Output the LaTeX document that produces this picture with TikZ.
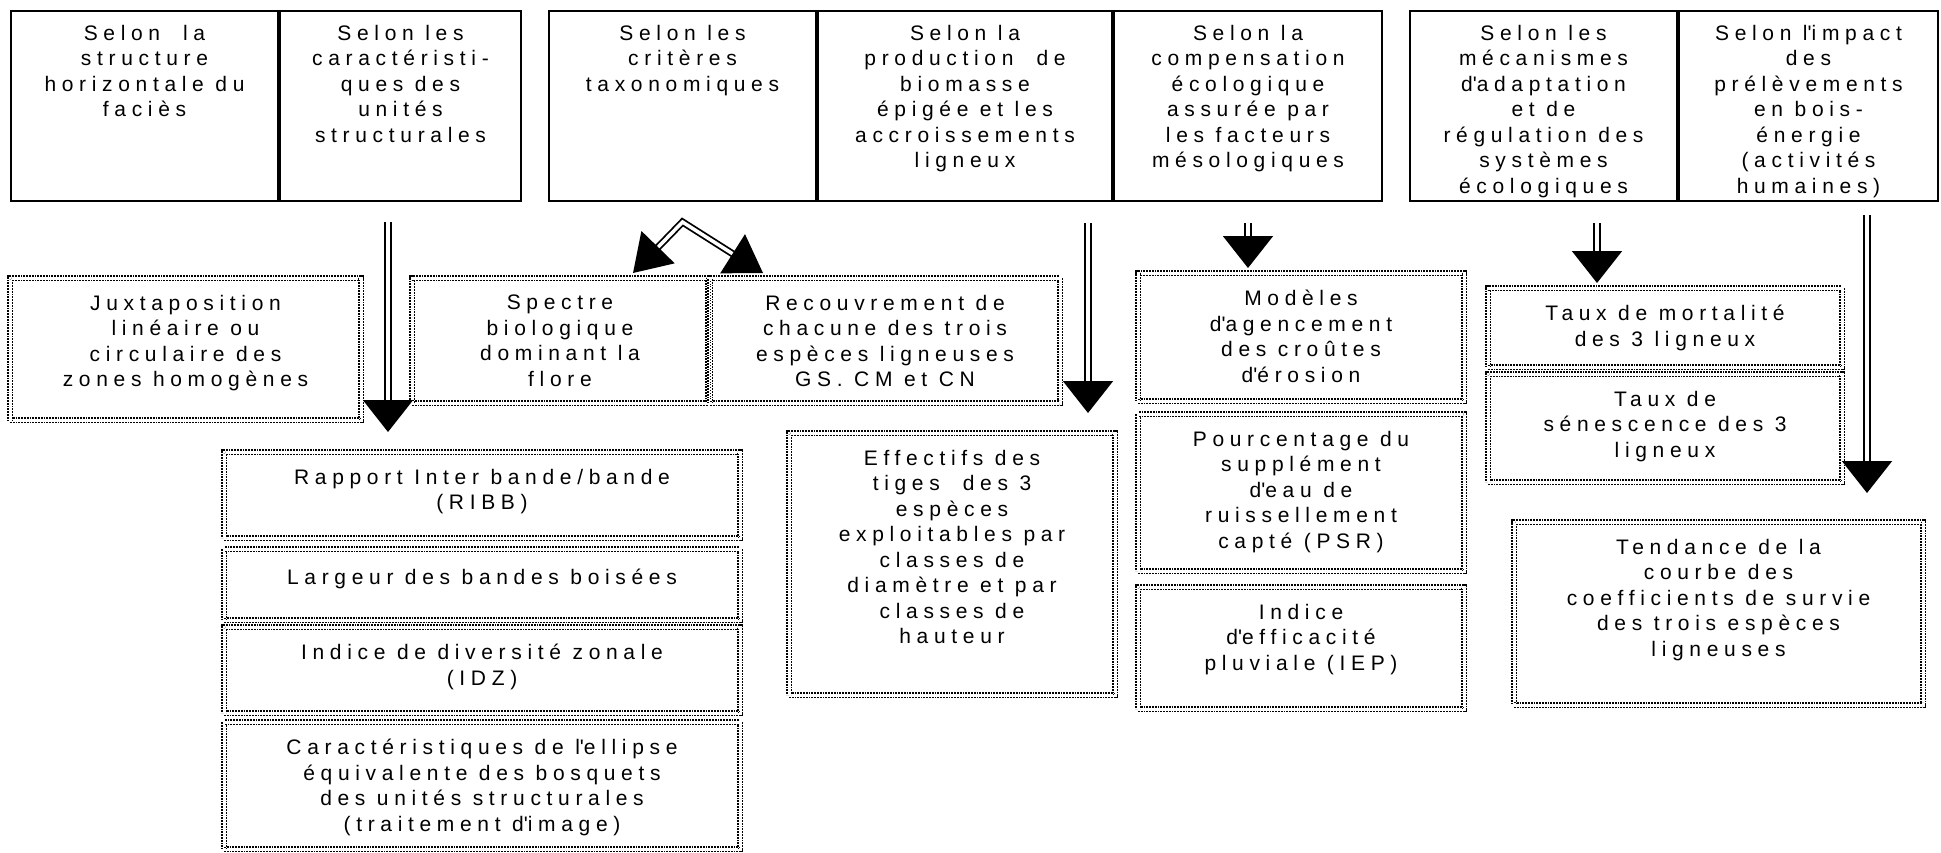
\documentclass[tikz,border=0pt]{standalone}
\usepackage{fontspec}
\setmainfont{Liberation Sans}
\newfontfamily\diafont{Liberation Sans}[LetterSpace=27]
\usetikzlibrary{arrows.meta,calc}
\newcommand\ap{\textquotesingle}

\tikzset{
  x=1pt, y=-1pt,
  topbox/.style={draw, line width=2pt, inner sep=0pt, outer sep=0pt},
  dotbox/.style={draw, line width=1.4pt, double, double distance=3pt,
    dash pattern=on 1.8pt off 1pt, inner sep=0pt, outer sep=0pt},
  boxtext/.style={anchor=north, align=center, inner sep=0pt,
    font=\diafont\fontsize{21}{25.5}\selectfont, execute at begin node=\strut},
  toptext/.style={boxtext, yshift=-14pt},
  dottext/.style={boxtext, yshift=-17pt},
  dline/.style={draw, line width=1.8pt, double, double distance=3.5pt,
    -{Triangle[width=50pt,length=32pt]}},
  fork/.style={draw, line width=1.8pt, double, double distance=3.5pt,
    {Triangle[width=46pt,length=36pt]}-{Triangle[width=46pt,length=36pt]}},
}

\begin{document}
\begin{tikzpicture}
\fill[white] (0,0) rectangle (1941,852);
\useasboundingbox (0,0) rectangle (1941,852);

% criteria row
\node[topbox, minimum width=267pt, minimum height=190pt,
  label={[toptext]north:{Selon\ \ la\\structure\\horizontale du\\faciès}}] (b1) at (144.5,106) {};
\node[topbox, minimum width=241pt, minimum height=190pt,
  label={[toptext]north:{Selon les\\caractéristi-\\ques des\\unités\\structurales}}] (b2) at (400.5,106) {};
\node[topbox, minimum width=267pt, minimum height=190pt,
  label={[toptext]north:{Selon les\\critères\\taxonomiques}}] (b3) at (682.5,106) {};
\node[topbox, minimum width=294pt, minimum height=190pt,
  label={[toptext]north:{Selon la\\production\ \ de\\biomasse\\épigée et les\\accroissements\\ligneux}}] (b4) at (965,106) {};
\node[topbox, minimum width=268pt, minimum height=190pt,
  label={[toptext]north:{Selon la\\compensation\\écologique\\assurée par\\les facteurs\\mésologiques}}] (b5) at (1248,106) {};
\node[topbox, minimum width=267pt, minimum height=190pt,
  label={[toptext]north:{Selon les\\mécanismes\\d\ap adaptation\\et de\\régulation des\\systèmes\\écologiques}}] (b6) at (1543.5,106) {};
\node[topbox, minimum width=259pt, minimum height=190pt,
  label={[toptext]north:{Selon l\ap impact\\des\\prélèvements\\en bois-\\énergie\\(activités\\humaines)}}] (b7) at (1808.5,106) {};

% indicators
\node[dotbox, minimum width=351pt, minimum height=142pt,
  label={[dottext]north:{Juxtaposition\\linéaire ou\\circulaire des\\zones homogènes}}] (juxt) at (185.5,349) {};
\node[dotbox, minimum width=296pt, minimum height=125pt,
  label={[dottext]north:{Spectre\\biologique\\dominant la\\flore}}] (spectre) at (560,340.5) {};
\node[dotbox, minimum width=350pt, minimum height=125pt,
  label={[dottext]north:{Recouvrement de\\chacune des trois\\espèces ligneuses\\GS. CM et CN}}] (recouv) at (885,340.5) {};

\node[dotbox, minimum width=516pt, minimum height=86pt,
  label={[dottext]north:{Rapport Inter bande/bande\\(RIBB)}}] (rapport) at (482,495) {};
\node[dotbox, minimum width=516pt, minimum height=71pt,
  label={[dottext]north:{Largeur des bandes boisées}}] (largeur) at (482,584.5) {};
\node[dotbox, minimum width=516pt, minimum height=86pt,
  label={[dottext]north:{Indice de diversité zonale\\(IDZ)}}] (idz) at (482,670) {};
\node[dotbox, minimum width=516pt, minimum height=127pt,
  label={[dottext]north:{Caractéristiques de l\ap ellipse\\équivalente des bosquets\\des unités structurales\\(traitement d\ap image)}}] (ellipse) at (482,785.5) {};

\node[dotbox, minimum width=326pt, minimum height=262pt,
  label={[dottext]north:{Effectifs des\\tiges\ \ des 3\\espèces\\exploitables par\\classes de\\diamètre et par\\classes de\\hauteur}}] (effectifs) at (952,564) {};

\node[dotbox, minimum width=326pt, minimum height=128pt,
  label={[dottext]north:{Modèles\\d\ap agencement\\des croûtes\\d\ap érosion}}] (modeles) at (1301,337) {};
\node[dotbox, minimum width=326pt, minimum height=157pt,
  label={[dottext]north:{Pourcentage du\\supplément\\d\ap eau de\\ruissellement\\capté (PSR)}}] (psr) at (1301,492.5) {};
\node[dotbox, minimum width=326pt, minimum height=122pt,
  label={[dottext]north:{Indice\\d\ap efficacité\\pluviale (IEP)}}] (iep) at (1301,648) {};

\node[dotbox, minimum width=354pt, minimum height=79pt,
  label={[dottext]north:{Taux de mortalité\\des 3 ligneux}}] (mortal) at (1665,327.5) {};
\node[dotbox, minimum width=354pt, minimum height=108pt,
  label={[dottext]north:{Taux de\\sénescence des 3\\ligneux}}] (senesc) at (1665,428) {};
\node[dotbox, minimum width=409pt, minimum height=183pt,
  label={[dottext]north:{Tendance de la\\courbe des\\coefficients de survie\\des trois espèces\\ligneuses}}] (tendance) at (1718.5,613.5) {};

% connectors
\draw[dline] ($(b2.south)+(-12.5,21)$) -- ($(b2.south |- rapport.north)+(-12.5,-20)$);
\draw[fork] ($(spectre.north)+(73,-5)$) -- ($(b3.south)+(0,21)$) -- ($(recouv.north)+(-122,-5)$);
\draw[dline] ($(b4.south)+(123,22)$) -- ($(b4.south |- effectifs.north)+(123,-20)$);
\draw[dline] ($(b5.south)+(0,22)$) -- ($(b5.south |- modeles.north)+(0,-5)$);
\draw[dline] ($(b6.south)+(53.5,22)$) -- ($(b6.south |- mortal.north)+(53.5,-5)$);
\draw[dline] ($(b7.south)+(58.5,14)$) -- ($(b7.south |- tendance.north)+(58.5,-29)$);
\end{tikzpicture}
\end{document}
